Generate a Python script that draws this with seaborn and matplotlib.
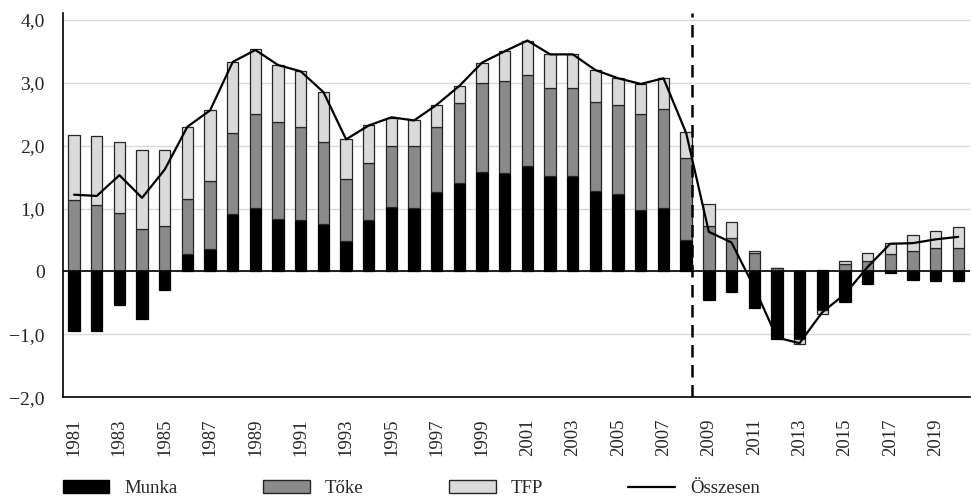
import numpy as np
import pandas as pd
import matplotlib
matplotlib.use("Agg")
import matplotlib.pyplot as plt
from matplotlib.patches import Patch
from matplotlib.lines import Line2D
import seaborn as sns

years = [str(y) for y in range(1981, 2021)]
munka = [-0.95, -0.95, -0.53, -0.76, -0.30, 0.28, 0.36, 0.91, 1.01, 0.84,
         0.81, 0.76, 0.49, 0.81, 1.03, 1.01, 1.26, 1.41, 1.58, 1.56,
         1.68, 1.51, 1.51, 1.28, 1.23, 0.98, 1.01, 0.50, -0.45, -0.33,
         -0.58, -1.08, -1.08, -0.62, -0.48, -0.20, -0.03, -0.13, -0.15, -0.15]
toke = [1.13, 1.05, 0.93, 0.68, 0.73, 0.87, 1.07, 1.29, 1.50, 1.54,
        1.49, 1.29, 0.98, 0.92, 0.97, 0.99, 1.04, 1.26, 1.42, 1.47,
        1.44, 1.41, 1.41, 1.42, 1.42, 1.52, 1.57, 1.31, 0.73, 0.53,
        0.30, 0.05, 0.00, 0.03, 0.12, 0.17, 0.28, 0.33, 0.38, 0.37]
tfp = [1.04, 1.10, 1.12, 1.25, 1.20, 1.15, 1.13, 1.13, 1.02, 0.90,
       0.88, 0.80, 0.63, 0.59, 0.44, 0.40, 0.35, 0.28, 0.32, 0.47,
       0.55, 0.53, 0.53, 0.50, 0.42, 0.48, 0.49, 0.41, 0.35, 0.25,
       0.03, 0.00, -0.07, -0.05, 0.04, 0.12, 0.18, 0.25, 0.27, 0.33]
osszesen = [1.22, 1.20, 1.53, 1.17, 1.62, 2.30, 2.56, 3.33, 3.52, 3.28,
            3.18, 2.85, 2.10, 2.32, 2.45, 2.40, 2.65, 2.95, 3.32, 3.50,
            3.67, 3.45, 3.45, 3.20, 3.07, 2.98, 3.07, 2.20, 0.63, 0.46,
            -0.25, -1.05, -1.14, -0.65, -0.36, 0.07, 0.44, 0.45, 0.51, 0.55]
series_names = ["Munka", "Tőke", "TFP"]
line_name = "Összesen"
y_ticks = [-2, -1, 0, 1, 2, 3, 4]
y_ticklabels = ["−2,0", "−1,0", "0", "1,0", "2,0", "3,0", "4,0"]

colors = {"Munka": "#000000", "Tőke": "#8a8a8a", "TFP": "#dadada"}
edges = {"Munka": "#000000", "Tőke": "#262626", "TFP": "#262626"}

sns.set_style("white")
plt.rcParams['font.family'] = ['Liberation Serif', 'DejaVu Serif']
plt.rcParams['axes.unicode_minus'] = True
FS = 13.5

fig = plt.figure(figsize=(9.71, 4.99), dpi=100)
ax = fig.add_axes([0.0646, 0.2038, 0.9339, 0.7692])

# stacked bars: positives upward, negatives downward
pos_b = np.zeros(len(years))
neg_b = np.zeros(len(years))
for name, vals in zip(series_names, [munka, toke, tfp]):
    vals = np.array(vals)
    bottoms = np.where(vals >= 0, pos_b, neg_b)
    sns.barplot(x=years, y=vals, bottom=bottoms, color=colors[name],
                saturation=1, width=0.5, edgecolor=edges[name],
                linewidth=0.9, ax=ax, zorder=3)
    pos_b = pos_b + np.where(vals >= 0, vals, 0)
    neg_b = neg_b + np.where(vals < 0, vals, 0)

sns.lineplot(x=np.arange(len(years)), y=osszesen, color="black",
             linewidth=1.6, ax=ax, zorder=5)

ax.axhline(0, color="black", linewidth=1.2, zorder=4)
ax.axvline(27.25, color="black", linewidth=1.8, linestyle=(0, (5, 3)), zorder=6)

ax.set_xlim(-0.5, len(years) - 0.5)
ax.set_ylim(-2, 4.1)
ax.set_yticks(y_ticks)
ax.set_yticklabels(y_ticklabels, fontsize=14)
ax.yaxis.grid(True, color="#d9d9d9", linewidth=1.0, zorder=0)
ax.set_axisbelow(True)

ax.set_xticks(np.arange(0, len(years), 2))
ax.set_xticklabels(years[::2], rotation=90, fontsize=FS)
ax.set_xticks(np.arange(-0.5, len(years), 1), minor=True)
ax.tick_params(axis="x", which="major", length=0, pad=15)
ax.tick_params(axis="x", which="minor", length=6, width=1.0, color="black", direction="out")
ax.tick_params(axis="y", which="major", length=7, width=1.0, color="black", direction="out", pad=6)
ax.set_xlabel("")
ax.set_ylabel("")

for s in ["top", "right"]:
    ax.spines[s].set_visible(False)
for s in ["left", "bottom"]:
    ax.spines[s].set_color("black")
    ax.spines[s].set_linewidth(1.2)

handles = [Patch(facecolor=colors[n], edgecolor=edges[n], linewidth=1.0) for n in series_names]
handles.append(Line2D([0], [0], color="black", linewidth=1.6))
fig.legend(handles, series_names + [line_name], loc="lower left",
           bbox_to_anchor=(0.047, -0.03), ncol=4, frameon=False,
           fontsize=FS, handlelength=2.5, handleheight=0.7,
           handletextpad=0.8, columnspacing=4.55)

fig.savefig("out.png", dpi=100)
